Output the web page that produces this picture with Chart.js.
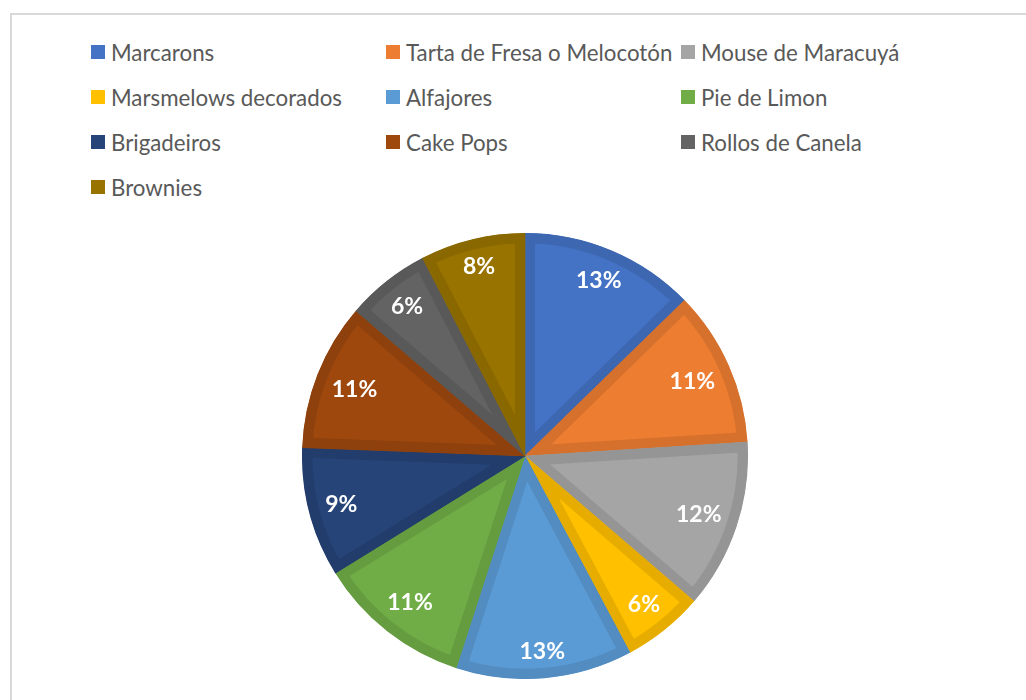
<!DOCTYPE html>
<html>
<head>
<meta charset="utf-8">
<script src="https://cdn.jsdelivr.net/npm/chart.js@4.4.0/dist/chart.umd.min.js"></script>
<style>
  body { margin: 0; background: #fff; width: 1026px; height: 700px; overflow: hidden; position: relative; }
  #frame { position: absolute; left: 10px; top: 13px; width: 1040px; height: 720px; border: 2px solid #d9d9d9; box-sizing: border-box; }
  #legend { position: absolute; left: 91px; top: 39px; display: grid; grid-template-columns: 295px 295px 295px; grid-auto-rows: 45px; }
  .item { display: flex; align-items: center; height: 26px; font-family: Lato, sans-serif; font-size: 22.3px; color: #595959; white-space: nowrap; }
  .box { width: 14px; height: 14px; margin-right: 6px; flex: none; }
  #pie { position: absolute; left: 302px; top: 233px; }
</style>
</head>
<body>
<div id="frame"></div>
<div id="legend"></div>
<canvas id="pie" width="446" height="446"></canvas>
<script>
// Postres y su porcentaje
const labels = ['Marcarons', 'Tarta de Fresa o Melocotón', 'Mouse de Maracuyá',
  'Marsmelows decorados', 'Alfajores', 'Pie de Limon',
  'Brigadeiros', 'Cake Pops', 'Rollos de Canela', 'Brownies'];
const values = [12.7, 11.3, 12.3, 5.9, 12.8, 11.2, 9.4, 10.7, 6.1, 7.6];
const colors = ['#4472c4', '#ed7d31', '#a5a5a5', '#ffc000', '#5b9bd5',
  '#70ad47', '#264478', '#9e480e', '#636363', '#997300'];

// darker edge of each slice
function shade(hex, f) {
  const n = parseInt(hex.slice(1), 16);
  const r = Math.round(((n >> 16) & 255) * f);
  const g = Math.round(((n >> 8) & 255) * f);
  const b = Math.round((n & 255) * f);
  return `rgb(${r}, ${g}, ${b})`;
}
const borders = colors.map(c => shade(c, 0.9));

// Legend, three columns
const legend = document.getElementById('legend');
labels.forEach((name, i) => {
  const item = document.createElement('div');
  item.className = 'item';
  item.innerHTML = `<span class="box" style="background:${colors[i]}"></span><span>${name}</span>`;
  legend.appendChild(item);
});

const total = values.reduce((a, b) => a + b, 0);

// Percent labels placed just inside the rim
const percentLabels = {
  id: 'percentLabels',
  afterDatasetsDraw(chart) {
    const ctx = chart.ctx;
    const meta = chart.getDatasetMeta(0);
    ctx.save();
    ctx.font = 'bold 23px Lato, sans-serif';
    ctx.fillStyle = '#ffffff';
    ctx.textAlign = 'center';
    ctx.textBaseline = 'middle';
    meta.data.forEach((arc, i) => {
      const p = arc.getProps(['x', 'y', 'startAngle', 'endAngle', 'outerRadius'], true);
      const mid = (p.startAngle + p.endAngle) / 2;
      const text = Math.round(values[i] / total * 100) + '%';
      const w = ctx.measureText(text).width;
      const h = 20;
      const ext = w / 2 * Math.abs(Math.cos(mid)) + h / 2 * Math.abs(Math.sin(mid));
      const d = p.outerRadius - 15 - ext;
      ctx.fillText(text, p.x + Math.cos(mid) * d, p.y + Math.sin(mid) * d);
    });
    ctx.restore();
  }
};

new Chart(document.getElementById('pie'), {
  type: 'pie',
  data: {
    labels: labels,
    datasets: [{
      data: values,
      backgroundColor: colors,
      borderColor: borders,
      borderWidth: 10,
      hoverBorderWidth: 10,
      borderAlign: 'inner',
      borderJoinStyle: 'miter'
    }]
  },
  options: {
    responsive: false,
    animation: false,
    events: [],
    layout: { padding: 0 },
    plugins: {
      legend: { display: false },
      tooltip: { enabled: false }
    }
  },
  plugins: [percentLabels]
});
</script>
</body>
</html>
